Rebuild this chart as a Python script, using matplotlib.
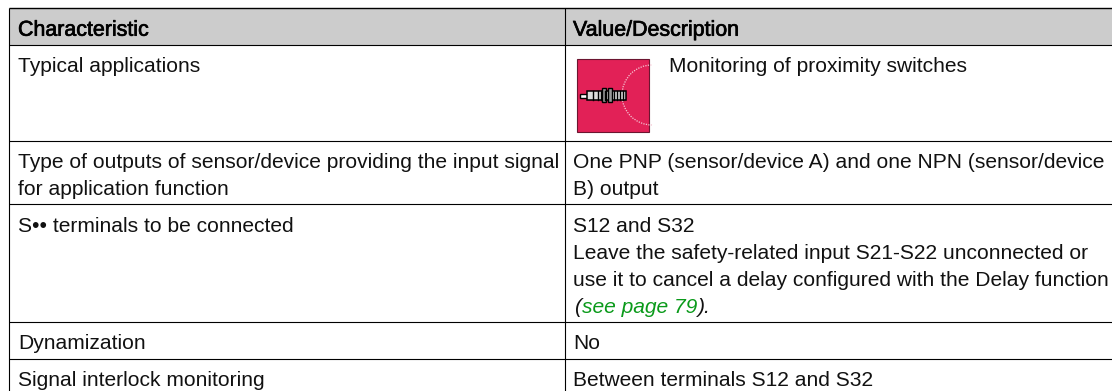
import matplotlib
matplotlib.use("Agg")
import matplotlib.pyplot as plt
import matplotlib.patheffects as pe
from matplotlib.patches import Rectangle, Arc

plt.rcParams['font.family'] = ['Liberation Sans', 'DejaVu Sans']

# table contents
headers = ["Characteristic", "Value/Description"]
col_left = [
    ["Typical applications"],
    ["Type of outputs of sensor/device providing the input signal", "for application function"],
    ["S\u2022\u2022 terminals to be connected"],
    ["Dynamization"],
    ["Signal interlock monitoring"],
]
col_right = [
    ["Monitoring of proximity switches"],
    ["One PNP (sensor/device A) and one NPN (sensor/device", "B) output"],
    ["S12 and S32", "Leave the safety-related input S21-S22 unconnected or",
     "use it to cancel a delay configured with the Delay function"],
    ["No"],
    ["Between terminals S12 and S32"],
]
link_text = "see page 79"

W, H = 1112, 391
row_lines = [7.5, 45, 140.5, 204, 321.5, 358.5]
left, mid, right = 9, 565, 1112
fs = 15.1
pitch = 27

fig = plt.figure(figsize=(W / 100, H / 100), dpi=100)
ax = fig.add_axes([0, 0, 1, 1])
ax.set_xlim(0, W)
ax.set_ylim(H, 0)
ax.axis('off')

# header band
ax.add_patch(Rectangle((left, row_lines[0]), right - left, row_lines[1] - row_lines[0],
                       fc='#cccccc', ec='none', zorder=0))
for i, y in enumerate(row_lines):
    ax.plot([left, right], [y, y], color='black', lw=0.8 if i > 0 else 1.0, solid_capstyle='butt')
for x in [left, mid]:
    ax.plot([x, x], [row_lines[0], H], color='black', lw=0.8, solid_capstyle='butt')

# header text is a little heavier than the body
for x, s in zip([18, 573], headers):
    ax.text(x, 35.7, s, fontsize=15.4, va='baseline', color='black',
            path_effects=[pe.withStroke(linewidth=0.5, foreground='black')])

baselines = [72.5, 168, 231.7, 349, 386]
for lines, y0 in zip(col_left, baselines):
    for j, s in enumerate(lines):
        ax.text(18, y0 + j * pitch, s, fontsize=fs, va='baseline', color='#111111')

for k, (lines, y0) in enumerate(zip(col_right, baselines)):
    x0 = 669 if k == 0 else 573
    for j, s in enumerate(lines):
        ax.text(x0, y0 + j * pitch, s, fontsize=fs, va='baseline', color='#111111')

# link line, pieces placed one after the other
fig.canvas.draw()
rend = fig.canvas.get_renderer()
x = 574
y = baselines[2] + 3 * pitch
for s, c in [("(", '#111111'), (link_text, '#0a9a1a'), (").", '#111111')]:
    t = ax.text(x, y, s, fontsize=fs, style='italic', color=c, va='baseline')
    x = x + t.get_window_extent(rend).width + 0.5

# icon
ax.add_patch(Rectangle((577, 59), 72, 73, fc='#e22157', ec='#6b1530', lw=0.8))
ax.add_patch(Arc((652, 95), 60, 60, theta1=90, theta2=270, color='#f5c4d2', lw=0.9, ls=(0, (1, 1))))
ax.add_patch(Rectangle((580, 94), 8, 4, fc='white', ec='black', lw=1.0))
ax.add_patch(Rectangle((587, 90.5), 38.5, 9, fc='#dddddd', ec='black', lw=1.1))
for xx in [593, 598, 601, 605, 614, 617, 620, 623]:
    ax.plot([xx, xx], [90.5, 99.5], color='black', lw=1.0)
for xx in [602, 607.5]:
    ax.add_patch(Rectangle((xx, 87.5), 4, 14.5, fc='#999999', ec='black', lw=1.0))

fig.savefig('out.png', dpi=100)
